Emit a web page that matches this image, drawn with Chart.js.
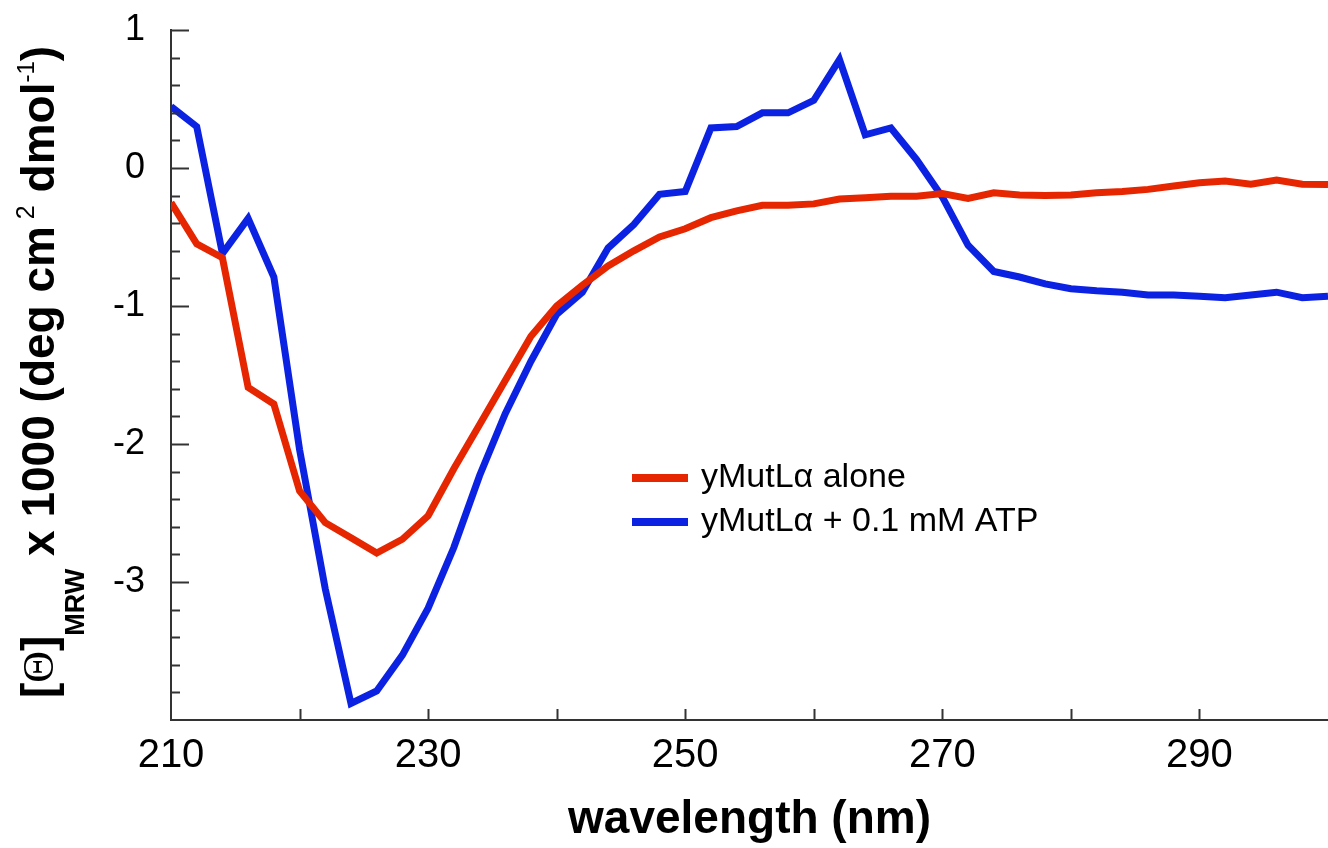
<!DOCTYPE html>
<html>
<head>
<meta charset="utf-8">
<title>CD spectra yMutLα</title>
<script src="https://cdn.jsdelivr.net/npm/chart.js@4.4.1/dist/chart.umd.min.js"></script>
<style>
    body { margin: 0; background: #ffffff; }
    #wrap { width: 1328px; height: 848px; }
</style>
</head>
<body>
<div id="wrap">
    <canvas id="cd-chart" width="1328" height="848"></canvas>
</div>
<script>
// Wavelengths (nm)
const wavelengths = [
    210, 212, 214, 216, 218, 220, 222, 224, 226, 228,
    230, 232, 234, 236, 238, 240, 242, 244, 246, 248,
    250, 252, 254, 256, 258, 260, 262, 264, 266, 268,
    270, 272, 274, 276, 278, 280, 282, 284, 286, 288,
    290, 292, 294, 296, 298, 300
];

// [Theta]MRW x 1000, yMutLa alone
const aloneValues = [
    -0.25, -0.55, -0.65, -1.59, -1.71, -2.34, -2.57, -2.68, -2.79, -2.69,
    -2.52, -2.18, -1.86, -1.54, -1.22, -1.00, -0.85, -0.71, -0.60, -0.50,
    -0.44, -0.36, -0.31, -0.27, -0.27, -0.26, -0.225, -0.215, -0.205, -0.205,
    -0.185, -0.22, -0.18, -0.196, -0.20, -0.196, -0.18, -0.17, -0.155, -0.13,
    -0.107, -0.095, -0.117, -0.087, -0.117, -0.12
];

// [Theta]MRW x 1000, yMutLa + 0.1 mM ATP
const atpValues = [
    0.445, 0.30, -0.62, -0.365, -0.79, -2.04, -3.05, -3.88, -3.79, -3.53,
    -3.19, -2.75, -2.23, -1.78, -1.40, -1.06, -0.90, -0.58, -0.41, -0.19,
    -0.17, 0.29, 0.30, 0.40, 0.40, 0.49, 0.785, 0.24, 0.29, 0.06,
    -0.21, -0.56, -0.75, -0.79, -0.84, -0.875, -0.89, -0.90, -0.92, -0.92,
    -0.93, -0.94, -0.92, -0.90, -0.94, -0.93
];

const seriesLabels = ['yMutLα alone', 'yMutLα + 0.1 mM ATP'];
const seriesColors = ['#e62600', '#0b22e3'];

// tick labels that are printed
const xTickLabels = [210, 230, 250, 270, 290];
const yTickLabels = [1, 0, -1, -2, -3];

const sansFont = '"Liberation Sans", Arial, sans-serif';
const axisColor = '#333333';

function toPoints(values) {
    return wavelengths.map((w, i) => ({ x: w, y: values[i] }));
}

// Inward tick marks like the original plot
const innerTicks = {
    id: 'innerTicks',
    afterDraw(chart) {
        const ctx = chart.ctx;
        const area = chart.chartArea;
        const xs = chart.scales.x;
        const ys = chart.scales.y;
        ctx.save();
        ctx.strokeStyle = axisColor;
        ctx.lineWidth = 2;
        ys.ticks.forEach(t => {
            const v = t.value;
            if (Math.abs(v - ys.min) < 1e-6) return;
            const py = Math.round(ys.getPixelForValue(v)) + 0.5;
            const major = Math.abs(v - Math.round(v)) < 1e-6;
            ctx.beginPath();
            ctx.moveTo(area.left, py);
            ctx.lineTo(area.left + (major ? 18 : 9), py);
            ctx.stroke();
        });
        xs.ticks.forEach(t => {
            const v = t.value;
            if (v <= xs.min || v >= xs.max) return;
            const px = Math.round(xs.getPixelForValue(v)) + 0.5;
            ctx.beginPath();
            ctx.moveTo(px, area.bottom);
            ctx.lineTo(px, area.bottom - 11);
            ctx.stroke();
        });
        ctx.restore();
    }
};

// Y axis title with subscript and superscripts
const yTitle = {
    id: 'yTitle',
    afterDraw(chart) {
        const ctx = chart.ctx;
        const parts = [
            { text: '[', font: 'bold 46px ' + sansFont, dy: 0 },
            { text: 'Θ', font: '44px "Liberation Serif", serif', dy: -1 },
            { text: ']', font: 'bold 46px ' + sansFont, dy: 0 },
            { text: 'MRW', font: 'bold 27px ' + sansFont, dy: 30 },
            { text: ' x 1000 (deg cm', font: 'bold 46px ' + sansFont, dy: 0 },
            { text: ' 2', font: '25px ' + sansFont, dy: -20 },
            { text: ' dmol', font: 'bold 46px ' + sansFont, dy: 0 },
            { text: '-1', font: '24px ' + sansFont, dy: -20 },
            { text: ')', font: 'bold 46px ' + sansFont, dy: 0 }
        ];
        ctx.save();
        let total = 0;
        parts.forEach(p => {
            ctx.font = p.font;
            p.w = ctx.measureText(p.text).width;
            total += p.w;
        });
        ctx.translate(54, 372);
        ctx.rotate(-Math.PI / 2);
        ctx.fillStyle = '#000000';
        ctx.textAlign = 'left';
        ctx.textBaseline = 'alphabetic';
        let x = -total / 2;
        parts.forEach(p => {
            ctx.font = p.font;
            ctx.fillText(p.text, x, p.dy);
            x += p.w;
        });
        ctx.restore();
    }
};

// Legend inside the plot
const plotLegend = {
    id: 'plotLegend',
    afterDraw(chart) {
        const ctx = chart.ctx;
        const rows = [478, 522];
        ctx.save();
        ctx.font = '34px ' + sansFont;
        ctx.textBaseline = 'middle';
        ctx.textAlign = 'left';
        chart.data.datasets.forEach((ds, i) => {
            ctx.strokeStyle = ds.borderColor;
            ctx.lineWidth = 8;
            ctx.beginPath();
            ctx.moveTo(632, rows[i]);
            ctx.lineTo(688, rows[i]);
            ctx.stroke();
            ctx.fillStyle = '#000000';
            ctx.fillText(ds.label, 701, rows[i]);
        });
        ctx.restore();
    }
};

document.addEventListener('DOMContentLoaded', function() {
    const ctx = document.getElementById('cd-chart').getContext('2d');

    new Chart(ctx, {
        type: 'line',
        data: {
            datasets: [
                {
                    label: seriesLabels[0],
                    data: toPoints(aloneValues),
                    borderColor: seriesColors[0],
                    borderWidth: 7,
                    pointRadius: 0,
                    tension: 0,
                    fill: false
                },
                {
                    label: seriesLabels[1],
                    data: toPoints(atpValues),
                    borderColor: seriesColors[1],
                    borderWidth: 7,
                    pointRadius: 0,
                    tension: 0,
                    fill: false
                }
            ]
        },
        options: {
            responsive: false,
            animation: false,
            devicePixelRatio: 1,
            layout: { padding: { top: 30, right: 0, left: 0, bottom: 0 } },
            plugins: {
                legend: { display: false },
                tooltip: { enabled: false }
            },
            scales: {
                x: {
                    type: 'linear',
                    min: 210,
                    max: 300,
                    afterFit: scale => {
                        scale.height = 128;
                        scale.paddingLeft = 0;
                        scale.paddingRight = 0;
                    },
                    border: { display: true, color: axisColor, width: 2 },
                    grid: { display: true, drawOnChartArea: false, drawTicks: false },
                    ticks: {
                        stepSize: 10,
                        autoSkip: false,
                        maxRotation: 0,
                        padding: 12,
                        color: '#000000',
                        font: { family: sansFont, size: 40 },
                        callback: v => xTickLabels.includes(v) ? String(v) : ''
                    },
                    title: {
                        display: true,
                        text: 'wavelength (nm)',
                        color: '#000000',
                        font: { family: sansFont, size: 46, weight: 'bold' },
                        padding: { top: 0, bottom: 0 }
                    }
                },
                y: {
                    type: 'linear',
                    min: -4,
                    max: 1,
                    afterFit: scale => {
                        scale.width = 171;
                        scale.paddingTop = 0;
                        scale.paddingBottom = 0;
                    },
                    border: { display: true, color: axisColor, width: 2 },
                    grid: { display: true, drawOnChartArea: false, drawTicks: false },
                    ticks: {
                        stepSize: 0.2,
                        autoSkip: false,
                        padding: 26,
                        color: '#000000',
                        font: { family: sansFont, size: 36 },
                        callback: v => {
                            const r = Math.round(v);
                            return (Math.abs(v - r) < 1e-6 && yTickLabels.includes(r)) ? String(r) : '';
                        }
                    }
                }
            }
        },
        plugins: [innerTicks, yTitle, plotLegend]
    });
});
</script>
</body>
</html>
